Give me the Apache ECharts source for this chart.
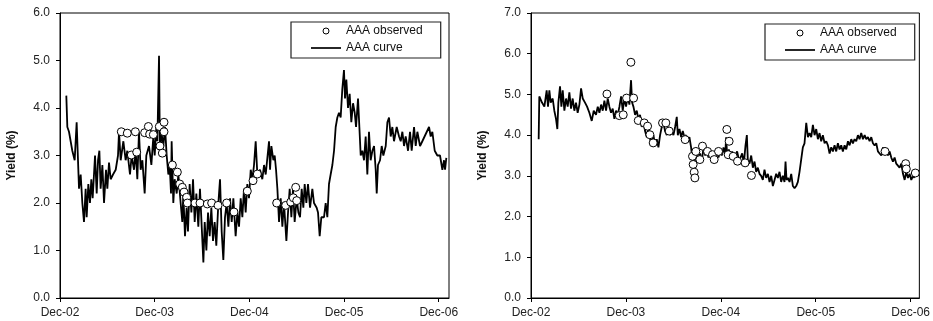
<!DOCTYPE html>
<html>
<head>
<meta charset="utf-8">
<script src="https://cdn.jsdelivr.net/npm/echarts@6.0.0/dist/echarts.min.js"></script>
<style>
  html, body { margin: 0; padding: 0; background: #fff; }
  #chart { width: 933px; height: 321px; }
</style>
</head>
<body>
<div id="chart"></div>
<script>
// x values are months after Dec-02
const xLabels = ["Dec-02", "Dec-03", "Dec-04", "Dec-05", "Dec-06"];

// left panel
const leftCurve = [
  [0.80,4.26],[0.93,3.6],[1.14,3.5],[1.35,3.3],[1.56,3.1],[1.86,2.9],[2.11,3.7],[2.41,2.3],[2.62,2.6],[2.83,2.0],
  [3.04,1.6],[3.25,2.3],[3.38,1.7],[3.59,2.4],[3.80,2.0],[3.97,2.5],[4.14,2.1],[4.44,3.0],[4.65,2.2],[4.82,2.9],
  [4.99,3.1],[5.15,2.3],[5.37,2.8],[5.58,2.0],[5.83,2.7],[6.00,2.3],[6.21,2.85],[6.42,2.5],[6.72,2.6],[7.06,2.7],
  [7.35,3.0],[7.48,3.5],[7.69,2.9],[8.03,3.3],[8.32,2.9],[8.53,3.1],[8.87,2.6],[9.08,3.0],[9.38,2.7],[9.59,3.1],
  [9.80,2.5],[10.01,3.5],[10.22,2.7],[10.44,2.9],[10.73,2.2],[10.94,3.0],[11.28,3.2],[11.58,2.8],[11.83,3.4],[12.00,3.0],
  [12.21,3.6],[12.34,3.3],[12.55,5.1],[12.67,3.0],[12.84,3.5],[13.10,3.2],[13.31,3.6],[13.52,3.0],[13.73,2.6],[13.90,2.8],
  [14.07,2.2],[14.15,3.3],[14.36,2.0],[14.53,2.5],[14.79,2.2],[15.00,2.6],[15.29,2.0],[15.50,1.6],[15.63,2.2],[15.84,1.3],
  [16.05,1.9],[16.22,1.4],[16.43,2.4],[16.65,1.8],[16.86,2.5],[17.07,1.6],[17.28,2.2],[17.53,1.5],[17.74,2.3],[17.96,1.5],
  [18.17,0.75],[18.34,1.6],[18.55,1.0],[18.76,1.8],[18.97,1.3],[19.18,1.9],[19.39,1.2],[19.60,1.6],[19.81,1.1],[20.07,2.0],
  [20.28,2.5],[20.49,1.4],[20.70,0.8],[20.91,1.7],[21.12,2.0],[21.34,1.5],[21.55,2.1],[21.76,1.6],[21.97,2.1],[22.26,1.3],
  [22.48,1.8],[22.69,1.5],[22.90,2.1],[23.11,1.7],[23.32,2.3],[23.53,1.8],[23.74,2.4],[23.95,2.1],[24.17,2.7],[24.38,2.5],
  [24.59,2.8],[24.80,3.3],[25.01,2.6],[25.35,2.7],[25.64,2.5],[25.86,2.8],[26.07,2.6],[26.49,3.3],[26.62,2.7],[26.79,3.2],
  [27.04,2.9],[27.21,3.0],[27.38,2.7],[27.55,2.3],[27.76,1.6],[27.97,2.1],[28.18,1.5],[28.39,2.0],[28.69,1.2],[28.90,1.8],
  [29.11,2.3],[29.32,1.7],[29.53,2.3],[29.74,1.6],[30.00,2.1],[30.21,1.8],[30.42,1.7],[30.63,2.3],[30.84,1.9],[31.01,2.4],
  [31.22,2.0],[31.43,2.4],[31.69,1.9],[31.98,2.3],[32.19,2.0],[32.53,1.9],[32.70,1.8],[32.91,1.3],[33.12,1.7],[33.46,1.7],
  [33.67,2.0],[33.88,1.7],[34.09,2.4],[34.30,2.6],[34.52,2.8],[34.73,3.1],[34.94,3.6],[35.15,3.8],[35.36,3.9],[35.57,3.8],
  [35.78,4.4],[35.99,4.8],[36.12,4.2],[36.29,4.6],[36.50,4.0],[36.71,4.3],[36.92,3.7],[37.14,4.1],[37.35,3.9],[37.52,3.6],
  [37.77,4.2],[37.94,3.6],[38.11,3.0],[38.32,3.1],[38.53,2.9],[38.74,3.4],[38.95,2.6],[39.16,3.5],[39.37,2.9],[39.59,3.1],
  [39.80,3.2],[40.01,2.7],[40.14,2.2],[40.30,2.8],[40.56,2.9],[40.77,3.2],[40.98,3.0],[41.28,3.2],[41.49,3.7],[41.70,3.8],
  [41.91,3.4],[42.12,3.6],[42.33,3.3],[42.67,3.6],[42.97,3.4],[43.18,3.3],[43.39,3.5],[43.60,3.2],[43.81,3.4],[44.11,3.1],
  [44.36,3.5],[44.57,3.1],[44.87,3.6],[45.08,3.2],[45.29,3.5],[45.63,3.2],[45.92,3.3],[46.77,3.6],[46.98,3.4],[47.19,3.5],
  [47.49,3.1],[47.82,3.0],[48.16,3.0],[48.46,2.7],[48.67,2.9],[48.80,2.7],[48.96,2.95]
];
const leftObserved = [
  [7.77,3.50],[8.53,3.47],[9.04,3.01],[9.55,3.50],[9.72,3.07],[10.73,3.48],[11.20,3.61],[11.36,3.45],[11.83,3.44],
  [12.59,3.61],[12.67,3.20],[12.97,3.05],[13.18,3.70],[13.18,3.50],[14.24,2.80],[14.87,2.65],[15.17,2.40],[15.50,2.33],
  [15.72,2.23],[16.05,2.12],[16.14,2.00],[17.11,2.00],[17.74,2.00],[18.67,1.98],[19.22,2.00],[20.03,1.95],[21.12,2.00],
  [22.05,1.81],[23.74,2.25],[24.46,2.47],[25.01,2.61],[27.46,2.00],[28.60,1.95],[29.24,2.02],[29.57,2.11],[29.87,2.33],
  [30.00,2.05]
];

// right panel
const rightCurve = [
  [0.97,3.9],[1.05,4.95],[1.39,4.8],[1.69,4.7],[1.98,5.1],[2.15,4.7],[2.32,5.1],[2.49,4.8],[2.74,4.9],[2.95,4.6],
  [3.16,4.4],[3.33,4.15],[3.46,4.8],[3.67,5.2],[3.84,4.7],[4.01,5.1],[4.22,4.6],[4.43,4.9],[4.64,4.7],[4.85,5.05],
  [5.06,4.65],[5.27,4.9],[5.48,4.6],[5.69,4.8],[5.90,4.55],[6.12,4.75],[6.33,5.15],[6.54,4.9],[6.83,4.8],[7.09,4.7],
  [7.38,4.55],[7.68,4.35],[7.93,4.6],[8.22,4.5],[8.44,4.7],[8.65,4.55],[8.86,4.75],[9.07,4.6],[9.28,4.85],[9.49,4.6],
  [9.70,4.9],[9.91,4.7],[10.12,4.55],[10.33,4.65],[10.54,4.4],[10.75,4.6],[10.97,4.5],[11.18,4.7],[11.39,4.95],[11.60,4.6],
  [11.81,4.9],[12.02,4.7],[12.23,4.95],[12.44,4.75],[12.65,5.35],[12.78,4.8],[12.95,4.7],[13.16,4.5],[13.37,4.6],[13.58,4.4],
  [13.79,4.5],[14.00,4.2],[14.21,4.35],[14.42,4.1],[14.64,3.95],[14.85,4.2],[15.06,3.9],[15.27,3.8],[15.48,4.0],[15.69,3.75],
  [15.90,3.9],[16.11,3.7],[16.32,4.0],[16.53,4.2],[16.74,4.3],[16.95,4.1],[17.17,4.0],[17.38,4.2],[17.59,4.0],[17.80,4.1],
  [18.01,4.0],[18.22,4.2],[18.43,4.45],[18.56,4.0],[18.77,4.15],[18.98,3.95],[19.19,4.1],[19.40,3.95],[19.61,4.0],[19.82,3.85],
  [20.03,3.95],[20.24,3.7],[20.46,3.3],[20.58,3.15],[20.75,3.45],[20.96,3.6],[21.17,3.4],[21.38,3.55],[21.59,3.35],[21.81,3.7],
  [22.02,3.5],[22.23,3.6],[22.44,3.45],[22.65,3.6],[22.86,3.4],[23.07,3.55],[23.28,3.4],[23.49,3.6],[23.70,3.45],[23.91,3.6],
  [24.12,3.5],[24.34,3.7],[24.55,3.5],[24.67,3.95],[24.80,3.5],[25.01,3.65],[25.22,3.45],[25.43,3.6],[25.64,3.4],[25.85,3.5],
  [26.06,3.6],[26.28,3.4],[26.49,3.45],[26.70,3.55],[26.91,3.3],[27.12,3.75],[27.29,4.0],[27.41,3.4],[27.63,3.3],[27.84,3.5],
  [28.05,3.2],[28.26,3.35],[28.47,3.1],[28.68,3.2],[28.89,3.05],[29.10,3.0],[29.31,2.9],[29.52,3.15],[29.73,2.95],[29.95,3.05],
  [30.16,2.85],[30.37,3.0],[30.58,2.75],[30.79,2.9],[31.00,3.05],[31.21,2.95],[31.42,3.1],[31.63,2.85],[31.84,3.0],[32.05,2.85],
  [32.18,3.35],[32.31,2.9],[32.48,2.95],[32.69,2.85],[32.90,3.05],[33.11,2.75],[33.32,2.7],[33.53,2.75],[33.74,2.85],[33.95,3.1],
  [34.16,3.4],[34.37,3.7],[34.58,3.8],[34.80,4.3],[35.01,3.95],[35.22,4.05],[35.43,3.95],[35.64,4.25],[35.85,4.0],[36.06,4.15],
  [36.27,3.9],[36.48,4.05],[36.69,3.85],[36.90,4.0],[37.12,3.8],[37.33,3.85],[37.54,3.75],[37.75,3.55],[37.96,3.7],[38.17,3.6],
  [38.38,3.75],[38.59,3.6],[38.80,3.8],[39.01,3.65],[39.22,3.75],[39.43,3.6],[39.65,3.75],[39.86,3.65],[40.07,3.85],[40.28,3.75],
  [40.49,3.9],[40.70,3.8],[40.91,3.9],[41.12,3.85],[41.33,4.0],[41.54,3.9],[41.75,4.05],[41.97,3.9],[42.18,4.0],[42.39,3.9],
  [42.60,3.95],[42.81,3.85],[43.02,3.95],[43.23,3.8],[43.44,3.75],[43.65,3.8],[43.86,3.6],[44.07,3.55],[44.29,3.5],[44.50,3.7],
  [44.71,3.55],[44.92,3.6],[45.13,3.5],[45.34,3.6],[45.55,3.45],[45.76,3.35],[45.97,3.45],[46.18,3.3],[46.39,3.25],[46.60,3.2],
  [46.82,3.3],[47.03,3.05],[47.24,2.9],[47.45,3.1],[47.66,2.95],[47.87,3.05],[48.08,2.9],[48.29,3.0],[48.50,2.95]
];
const rightObserved = [
  [9.60,5.01],[11.16,4.48],[11.66,4.50],[12.08,4.91],[12.63,5.79],[12.97,4.91],[13.56,4.36],[14.32,4.30],[14.74,4.22],
  [15.03,4.01],[15.45,3.81],[16.63,4.30],[17.05,4.30],[17.47,4.10],[19.49,3.89],[20.42,3.48],[20.50,3.28],[20.63,3.09],
  [20.72,2.95],[20.84,3.60],[21.35,3.40],[21.68,3.73],[22.32,3.60],[22.95,3.52],[23.16,3.40],[23.71,3.60],[24.76,4.14],
  [25.05,3.85],[24.93,3.52],[25.56,3.48],[26.11,3.36],[27.07,3.32],[27.87,3.01],[44.76,3.60],[47.37,3.30],[47.45,3.17],
  [48.59,3.07]
];

const font = "'Liberation Sans', Arial, sans-serif";
const chart = echarts.init(document.getElementById("chart"));

function xAxisFor(idx, max) {
  return {
    type: "value",
    gridIndex: idx,
    min: 0,
    max: max,
    interval: 12,
    axisLine: { lineStyle: { color: "#000", width: 1 } },
    axisTick: { length: 4, lineStyle: { color: "#000" } },
    axisLabel: {
      margin: 9,
      color: "#222",
      fontSize: 12,
      fontFamily: font,
      formatter: function (v) { return xLabels[Math.round(v / 12)] || ""; },
    },
    splitLine: { show: false },
  };
}
function yAxisFor(idx, max) {
  return {
    type: "value",
    gridIndex: idx,
    min: 0,
    max: max,
    interval: 1,
    name: "Yield (%)",
    nameLocation: "middle",
    nameGap: 42,
    nameTextStyle: { fontWeight: "bold", fontSize: 12, color: "#111", fontFamily: font },
    axisLine: { show: true, lineStyle: { color: "#000", width: 1 } },
    axisTick: { show: true, length: 4, lineStyle: { color: "#000" } },
    axisLabel: {
      margin: 10,
      color: "#222",
      fontSize: 12,
      fontFamily: font,
      formatter: function (v) { return v.toFixed(1); },
    },
    splitLine: { show: false },
  };
}
function legendAt(left, top) {
  return {
    orient: "vertical",
    left: left,
    top: top,
    data: [
      { name: "AAA observed", itemStyle: { color: "#fff", borderColor: "#000", borderWidth: 1 } },
      { name: "AAA curve", icon: "path://M0,0L60,0L60,3.4L0,3.4Z" },
    ],
    itemWidth: 30,
    itemHeight: 6,
    itemGap: 5,
    padding: [3, 18, 4, 20],
    borderColor: "#222",
    borderWidth: 1.2,
    backgroundColor: "#fff",
    selectedMode: false,
    textStyle: { fontSize: 12, color: "#111", fontFamily: font },
  };
}
function curveSeries(idx, data) {
  return {
    name: "AAA curve",
    type: "line",
    xAxisIndex: idx,
    yAxisIndex: idx,
    data: data,
    symbol: "none",
    lineStyle: { color: "#000", width: 1.8 },
    itemStyle: { color: "#000" },
    z: 2,
  };
}
function observedSeries(idx, data) {
  return {
    name: "AAA observed",
    type: "scatter",
    xAxisIndex: idx,
    yAxisIndex: idx,
    data: data,
    symbol: "circle",
    symbolSize: 8,
    itemStyle: { color: "#fff", borderColor: "#000", borderWidth: 1, opacity: 1 },
    z: 3,
  };
}

var option = {
  animation: false,
  backgroundColor: "#fff",
  grid: [
    { left: 60, top: 13, width: 389, height: 285, show: true, borderColor: "#000", borderWidth: 1 },
    { left: 531, top: 13, width: 389, height: 285, show: true, borderColor: "#000", borderWidth: 1 },
  ],
  legend: [legendAt(291, 22), legendAt(765, 24)],
  xAxis: [xAxisFor(0, 49.3), xAxisFor(1, 49.1)],
  yAxis: [yAxisFor(0, 6), yAxisFor(1, 7)],
  series: [
    observedSeries(0, leftObserved),
    curveSeries(0, leftCurve),
    observedSeries(1, rightObserved),
    curveSeries(1, rightCurve),
  ],
};
chart.setOption(option);
</script>
</body>
</html>
